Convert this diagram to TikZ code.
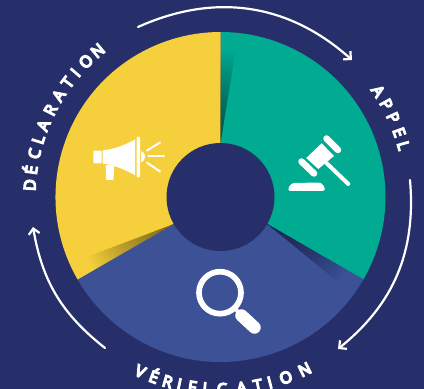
\documentclass[tikz,border=0pt]{standalone}
\usepackage{fontspec}
\newfontfamily\lettersfont[FakeBold=9]{Open Sans}
\usetikzlibrary{arrows.meta,calc}
\definecolor{navy}{RGB}{38,47,105}
\definecolor{bluesec}{RGB}{60,81,150}
\definecolor{yellowsec}{RGB}{246,208,60}
\definecolor{tealsec}{RGB}{0,171,146}
\tikzset{
  x=1pt,y=1pt,
  letter/.style={white,font=\lettersfont\fontsize{16}{16}\selectfont,inner sep=0pt,text height=11.4pt,text depth=0pt,anchor=center},
  cycleline/.style={white,line width=2.2pt,line cap=round,-{Straight Barb[length=5.5pt,width=11pt,line width=2.2pt]}},
  iconline/.style={white,line cap=round,line join=round},
}
\newcommand{\shadowfan}[2]{%
  \begin{scope}
    \clip (c) -- ++(#1:165) arc[start angle=#1,delta angle=-120,radius=165] -- cycle;
    \foreach \k in {1,...,30}{
      \pgfmathsetmacro{\rr}{56+3.0*\k}
      \pgfmathsetmacro{\off}{#1-atan(0.5*\k/\rr)}
      \fill[black,opacity=#2] ($(c)+(#1:54)$) -- ($(c)+(#1:\rr)$) -- ($(c)+(\off:\rr)$) -- cycle;
    }
  \end{scope}}
\begin{document}
\begin{tikzpicture}[x=1pt,y=1pt]
\useasboundingbox (0,0) rectangle (424,389);
\fill[navy] (0,0) rectangle (424,389);
\coordinate (c) at (220.5,192);
% sectors
\fill[tealsec] (c) -- ++(90:165) arc[start angle=90,delta angle=-120,radius=165] -- cycle;
\fill[bluesec] (c) -- ++(-30:165) arc[start angle=-30,delta angle=-120,radius=165] -- cycle;
\fill[yellowsec] (c) -- ++(210:165) arc[start angle=210,delta angle=-120,radius=165] -- cycle;
\shadowfan{90}{0.018}
\shadowfan{-30}{0.018}
\shadowfan{210}{0.018}
\fill[navy] (c) circle[radius=54];
% cycle arrows
\coordinate (a1) at (138,362);
\coordinate (a2) at (352,329);
\coordinate (b1) at (410,209);
\coordinate (b2) at (338,40);
\coordinate (d1) at (105,41);
\coordinate (d2) at (33,162);
\draw[cycleline] (a1) to[bend left=33] (a2);
\draw[cycleline] (b1) to[bend left=28] (b2);
\draw[cycleline] (d1) to[bend left=21] (d2);
% labels
\foreach \a/\t [count=\i] in {176.4/D,171.9/É,166.9/C,162.5/L,158/A,152.9/R,147.9/A,143.2/T,139.4/I,134.8/O,130/N}
  \node[letter,rotate=\a-90] (dc\i) at ([shift={(\a:191)}]c) {\t};
\foreach \a/\t [count=\i] in {33.9/A,29.2/P,24.7/P,19.9/E,15.7/L}
  \node[letter,rotate=\a-90] (ap\i) at ([shift={(\a:190)}]c) {\t};
\foreach \a/\t [count=\i] in {245.3/V,249.7/É,254/R,257.6/I,261.5/F,265.3/I,270.4/C,276.3/A,281.2/T,284.9/I,289.9/O,296/N}
  \node[letter,rotate=\a+90] (vf\i) at ([shift={(\a:192)}]c) {\t};
% icons, in image coordinates
\begin{scope}[yshift=389pt,yscale=-1]
  % megaphone
  \fill[white,rounded corners=1pt] (93.3,150.7) rectangle (101.5,163.3);
  \fill[white] (102.5,150.5) .. controls (115,149) and (125,145) .. (135,139.5) -- (135,175) .. controls (125,170) and (115,165) .. (102.5,163.5) -- cycle;
  \fill[white,rounded corners=1pt] (136.7,136.7) rectangle (140,177.3);
  \fill[white] (141,151) .. controls (144,152) and (145,154) .. (145,156.5) .. controls (145,159) and (144,161.5) .. (141,162.7) -- cycle;
  \fill[white,rounded corners=1pt] (105.7,165) -- (114.2,165) -- (113.5,180) -- (106,180) -- cycle;
  \draw[iconline,line width=2pt] (147,150.5) -- (160,142.5);
  \draw[iconline,line width=2pt] (148.5,156.5) -- (164,156.5);
  \draw[iconline,line width=2pt] (147,162.7) -- (160,171.5);
  % gavel
  \fill[white] (321.7,143.3) -- (334,156) -- (318.3,169) -- (306.2,158) -- cycle;
  \draw[iconline,line width=6.5pt] (326.5,138.5) -- (338,150);
  \draw[iconline,line width=6.5pt] (301.5,161.5) -- (314,173.5);
  \draw[iconline,line width=4pt] (326.7,163.3) -- (348.3,184);
  \fill[white,rounded corners=3.5pt] (287,191) -- (291,183) -- (322,182.5) -- (326,191) -- cycle;
  % magnifier
  \draw[white,line width=5.7pt] (220,292.7) circle[radius=21];
  \draw[iconline,line width=4pt] (235.5,309) -- (240,314);
  \draw[iconline,line width=12.5pt] (241.5,315.5) -- (254.5,327.5);
\end{scope}
\end{tikzpicture}
\end{document}
